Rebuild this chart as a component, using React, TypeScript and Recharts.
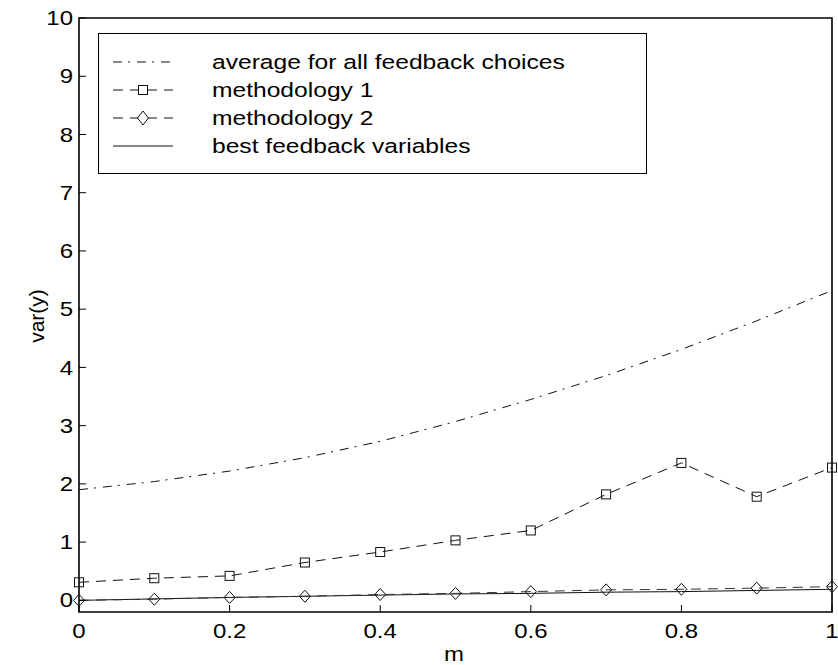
import { LineChart, Line, XAxis, YAxis, Legend, ReferenceArea } from "recharts";

const mValues = [0, 0.1, 0.2, 0.3, 0.4, 0.5, 0.6, 0.7, 0.8, 0.9, 1];
const averageAll = [1.9, 2.04, 2.22, 2.45, 2.73, 3.07, 3.45, 3.86, 4.31, 4.8, 5.32];
const methodology1 = [0.31, 0.38, 0.42, 0.65, 0.83, 1.03, 1.2, 1.82, 2.36, 1.78, 2.28];
const methodology2 = [0.0, 0.02, 0.05, 0.07, 0.1, 0.12, 0.15, 0.18, 0.19, 0.21, 0.235];
const bestFeedback = [0, 0.025, 0.05, 0.07, 0.09, 0.11, 0.12, 0.14, 0.15, 0.17, 0.19];

const xTicks = [0, 0.2, 0.4, 0.6, 0.8, 1];
const xTickLabels = ["0", "0.2", "0.4", "0.6", "0.8", "1"];
const yTicks = [0, 1, 2, 3, 4, 5, 6, 7, 8, 9, 10];
const yDomain = [-0.2, 10];

const data = mValues.map((m, i) => ({
  m,
  avg: averageAll[i],
  m1: methodology1[i],
  m2: methodology2[i],
  best: bestFeedback[i],
}));

const FONT = '"Liberation Sans", Arial, Helvetica, sans-serif';
const INK = "#111";
const STRETCH = 1.2;
const TICK_LEN = 7;

const DASH_DOT = "9 6 2 7";
const DASHED = "10 7";

// ticks are drawn by hand (mark + label), the axis line itself comes from a ReferenceArea frame
function BottomTick(props: any) {
  const { x, y, payload } = props;
  const idx = xTicks.indexOf(payload.value);
  return (
    <g>
      <path d={`M${x},${y} L${x},${y - TICK_LEN}`} stroke="#000" strokeWidth={1} fill="none" />
      <text
        transform={`translate(${x},${y + 12}) scale(${STRETCH},1)`}
        textAnchor="middle"
        dy="0.71em"
        fontSize={20}
        fontFamily={FONT}
        fill="#000"
      >
        {idx >= 0 ? xTickLabels[idx] : String(payload.value)}
      </text>
    </g>
  );
}

function TopTick(props: any) {
  const { x, y } = props;
  return <path d={`M${x},${y} L${x},${y + TICK_LEN}`} stroke="#000" strokeWidth={1} fill="none" />;
}

function LeftTick(props: any) {
  const { x, y, payload } = props;
  return (
    <g>
      <path d={`M${x},${y} L${x + TICK_LEN},${y}`} stroke="#000" strokeWidth={1} fill="none" />
      <text
        transform={`translate(${x - 6},${y}) scale(${STRETCH},1)`}
        textAnchor="end"
        dy="0.355em"
        fontSize={20}
        fontFamily={FONT}
        fill="#000"
      >
        {payload.value}
      </text>
    </g>
  );
}

function RightTick(props: any) {
  const { x, y } = props;
  return <path d={`M${x},${y} L${x - TICK_LEN},${y}`} stroke="#000" strokeWidth={1} fill="none" />;
}

function XLabel() {
  return (
    <text
      transform={`translate(454,661) scale(${STRETCH},1)`}
      textAnchor="middle"
      fontSize={20}
      fontFamily={FONT}
      fill="#000"
    >
      m
    </text>
  );
}

function YLabel() {
  return (
    <text
      transform="translate(36,316) rotate(-90)"
      textAnchor="middle"
      dominantBaseline="central"
      fontSize={21}
      fontFamily={FONT}
      fill="#000"
    >
      var(y)
    </text>
  );
}

function SquareDot(props: any) {
  const { cx, cy } = props;
  if (cx == null || cy == null) return null;
  return <rect x={cx - 4.5} y={cy - 4.5} width={9} height={9} fill="none" stroke={INK} strokeWidth={1} />;
}

function DiamondDot(props: any) {
  const { cx, cy } = props;
  if (cx == null || cy == null) return null;
  return (
    <path
      d={`M${cx},${cy - 6} L${cx + 5.5},${cy} L${cx},${cy + 6} L${cx - 5.5},${cy} Z`}
      fill="none"
      stroke={INK}
      strokeWidth={1}
    />
  );
}

const legendRows = [
  { label: "average for all feedback choices", dash: DASH_DOT, marker: "none" },
  { label: "methodology 1", dash: DASHED, marker: "square" },
  { label: "methodology 2", dash: DASHED, marker: "diamond" },
  { label: "best feedback variables", dash: undefined, marker: "none" },
];

function LegendBox() {
  return (
    <div
      style={{
        boxSizing: "border-box",
        width: 549,
        height: 141,
        border: "1.5px solid #000",
        background: "#fff",
        paddingTop: 14,
        fontFamily: FONT,
      }}
    >
      {legendRows.map((r) => (
        <div key={r.label} style={{ display: "flex", alignItems: "center", height: 28 }}>
          <svg width={60} height={28} style={{ marginLeft: 13.5, flex: "none" }}>
            <line x1={0} y1={14} x2={60} y2={14} stroke={INK} strokeWidth={1} strokeDasharray={r.dash} />
            {r.marker === "square" && (
              <rect x={25.5} y={9.5} width={9} height={9} fill="#fff" stroke={INK} strokeWidth={1} />
            )}
            {r.marker === "diamond" && (
              <path d="M30,7 L35.5,14 L30,21 L24.5,14 Z" fill="#fff" stroke={INK} strokeWidth={1} />
            )}
          </svg>
          <span
            style={{
              marginLeft: 39,
              fontSize: 20.5,
              lineHeight: "28px",
              whiteSpace: "nowrap",
              display: "inline-block",
              transform: `scaleX(${STRETCH})`,
              transformOrigin: "left center",
              color: "#000",
            }}
          >
            {r.label}
          </span>
        </div>
      ))}
    </div>
  );
}

export default function App() {
  return (
    <div style={{ position: "absolute", left: 0, top: 0, width: 838, height: 665, background: "#fff" }}>
      <LineChart
        width={838}
        height={665}
        data={data}
        margin={{ top: 18, right: 6, bottom: 0, left: 0 }}
        style={{ fontFamily: FONT }}
      >
        <XAxis
          xAxisId="bottom"
          dataKey="m"
          type="number"
          domain={[0, 1]}
          ticks={xTicks}
          height={53}
          tickSize={0}
          tickMargin={0}
          tick={BottomTick}
          axisLine={false}
          tickLine={false}
          label={XLabel}
        />
        <XAxis
          xAxisId="top"
          orientation="top"
          dataKey="m"
          type="number"
          domain={[0, 1]}
          ticks={xTicks}
          height={0}
          tickSize={0}
          tickMargin={0}
          tick={TopTick}
          axisLine={false}
          tickLine={false}
        />
        <YAxis
          yAxisId="left"
          type="number"
          domain={yDomain}
          ticks={yTicks}
          width={79}
          tickSize={0}
          tickMargin={0}
          tick={LeftTick}
          allowDataOverflow
          axisLine={false}
          tickLine={false}
          label={YLabel}
        />
        <YAxis
          yAxisId="right"
          orientation="right"
          type="number"
          domain={yDomain}
          ticks={yTicks}
          width={0}
          tickSize={0}
          tickMargin={0}
          tick={RightTick}
          allowDataOverflow
          axisLine={false}
          tickLine={false}
        />
        <ReferenceArea
          xAxisId="bottom"
          yAxisId="left"
          x1={0}
          x2={1}
          y1={yDomain[0]}
          y2={yDomain[1]}
          fill="none"
          fillOpacity={0}
          stroke="#000"
          strokeWidth={1.6}
          strokeOpacity={1}
          ifOverflow="visible"
        />
        <Legend
          layout="vertical"
          align="center"
          verticalAlign="middle"
          content={() => <LegendBox />}
          wrapperStyle={{ position: "absolute", left: 98, top: 33, width: 549, height: 141 }}
        />
        <Line
          xAxisId="bottom"
          yAxisId="left"
          type="linear"
          dataKey="avg"
          name="average for all feedback choices"
          stroke={INK}
          strokeWidth={1}
          strokeDasharray={DASH_DOT}
          dot={false}
          activeDot={false}
          isAnimationActive={false}
        />
        <Line
          xAxisId="bottom"
          yAxisId="left"
          type="linear"
          dataKey="best"
          name="best feedback variables"
          stroke={INK}
          strokeWidth={1}
          dot={false}
          activeDot={false}
          isAnimationActive={false}
        />
        <Line
          xAxisId="bottom"
          yAxisId="left"
          type="linear"
          dataKey="m2"
          name="methodology 2"
          stroke="#333"
          strokeWidth={1}
          strokeDasharray={DASHED}
          dot={<DiamondDot />}
          activeDot={false}
          isAnimationActive={false}
        />
        <Line
          xAxisId="bottom"
          yAxisId="left"
          type="linear"
          dataKey="m1"
          name="methodology 1"
          stroke={INK}
          strokeWidth={1}
          strokeDasharray={DASHED}
          dot={<SquareDot />}
          activeDot={false}
          isAnimationActive={false}
        />
      </LineChart>
    </div>
  );
}
